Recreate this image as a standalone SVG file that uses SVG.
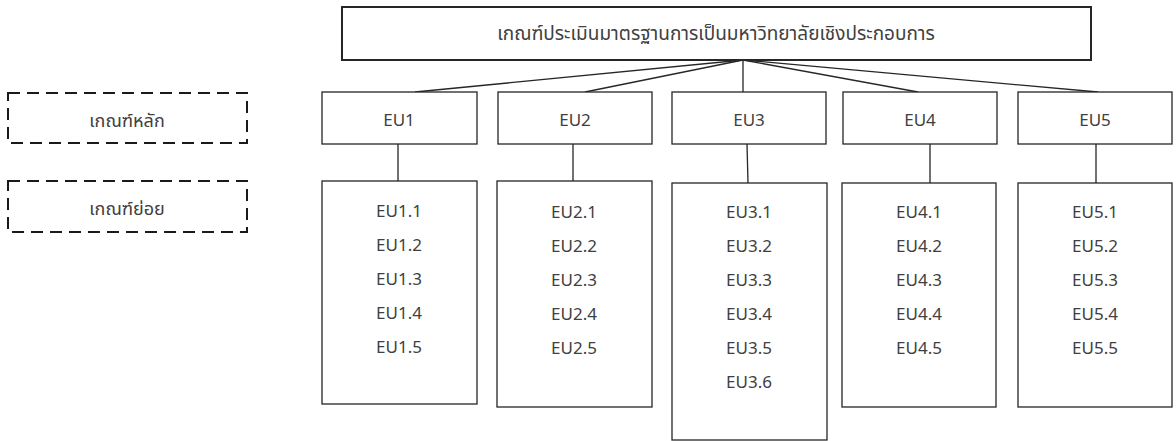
<svg xmlns="http://www.w3.org/2000/svg" width="1176" height="441" viewBox="0 0 1176 441">
<style>
.box{fill:#fff;stroke:#262626;stroke-width:1.3}
.dash{fill:none;stroke:#1a1a1a;stroke-width:2;stroke-dasharray:12 7}
.t{font-family:"Noto Sans Thai","Noto Sans","Open Sans",sans-serif;font-size:17px;fill:#404040;text-anchor:middle;dominant-baseline:central}
.th{font-size:18px}
.c{fill:none;stroke:#262626;stroke-width:1.3}
</style>
<rect width="1176" height="441" fill="#fff"/>
<g id="legend-main">
<rect class="dash" x="8" y="93" width="239" height="50"/>
<text class="t th" x="127" y="121">เกณฑ์หลัก</text>
</g>
<g id="legend-sub">
<rect class="dash" x="8" y="181" width="239" height="51"/>
<text class="t th" x="127" y="209">เกณฑ์ย่อย</text>
</g>
<g id="connectors">
<line class="c" x1="743" y1="60" x2="415" y2="92"/>
<line class="c" x1="743" y1="60" x2="585" y2="92"/>
<line class="c" x1="743" y1="60" x2="743" y2="92"/>
<line class="c" x1="743" y1="60" x2="918" y2="92"/>
<line class="c" x1="743" y1="60" x2="1098" y2="92"/>
<line class="c" x1="398" y1="144" x2="398" y2="181"/>
<line class="c" x1="573" y1="144" x2="573" y2="181"/>
<line class="c" x1="747" y1="144" x2="748" y2="183"/>
<line class="c" x1="930" y1="144" x2="930" y2="183"/>
<line class="c" x1="1096" y1="144" x2="1096" y2="183"/>
</g>
<g id="root">
<rect class="box" x="342" y="7" width="749" height="53" style="stroke-width:2"/>
<text class="t" x="716" y="34" style="font-size:19px">เกณฑ์ประเมินมาตรฐานการเป็นมหาวิทยาลัยเชิงประกอบการ</text>
</g>
<g id="EU1">
<rect class="box" x="322" y="92" width="155" height="52"/>
<text class="t" x="399" y="121">EU1</text>
</g>
<g id="EU2">
<rect class="box" x="498" y="92" width="154" height="52"/>
<text class="t" x="575" y="121">EU2</text>
</g>
<g id="EU3">
<rect class="box" x="672" y="92" width="154" height="52"/>
<text class="t" x="749" y="121">EU3</text>
</g>
<g id="EU4">
<rect class="box" x="843" y="92" width="154" height="52"/>
<text class="t" x="920" y="121">EU4</text>
</g>
<g id="EU5">
<rect class="box" x="1018" y="92" width="154" height="52"/>
<text class="t" x="1095" y="121">EU5</text>
</g>
<g id="EU1-sub">
<rect class="box" x="322" y="181" width="155" height="223"/>
<text class="t" x="399" y="212">EU1.1</text>
<text class="t" x="399" y="246">EU1.2</text>
<text class="t" x="399" y="280">EU1.3</text>
<text class="t" x="399" y="314">EU1.4</text>
<text class="t" x="399" y="348">EU1.5</text>
</g>
<g id="EU2-sub">
<rect class="box" x="497" y="181" width="155" height="226"/>
<text class="t" x="574" y="213">EU2.1</text>
<text class="t" x="574" y="247">EU2.2</text>
<text class="t" x="574" y="281">EU2.3</text>
<text class="t" x="574" y="315">EU2.4</text>
<text class="t" x="574" y="349">EU2.5</text>
</g>
<g id="EU3-sub">
<rect class="box" x="672" y="183" width="155" height="257"/>
<text class="t" x="749" y="213">EU3.1</text>
<text class="t" x="749" y="247">EU3.2</text>
<text class="t" x="749" y="281">EU3.3</text>
<text class="t" x="749" y="315">EU3.4</text>
<text class="t" x="749" y="349">EU3.5</text>
<text class="t" x="749" y="383">EU3.6</text>
</g>
<g id="EU4-sub">
<rect class="box" x="842" y="183" width="154" height="224"/>
<text class="t" x="919" y="213">EU4.1</text>
<text class="t" x="919" y="247">EU4.2</text>
<text class="t" x="919" y="281">EU4.3</text>
<text class="t" x="919" y="315">EU4.4</text>
<text class="t" x="919" y="349">EU4.5</text>
</g>
<g id="EU5-sub">
<rect class="box" x="1018" y="183" width="154" height="224"/>
<text class="t" x="1095" y="213">EU5.1</text>
<text class="t" x="1095" y="247">EU5.2</text>
<text class="t" x="1095" y="281">EU5.3</text>
<text class="t" x="1095" y="315">EU5.4</text>
<text class="t" x="1095" y="349">EU5.5</text>
</g>
</svg>
